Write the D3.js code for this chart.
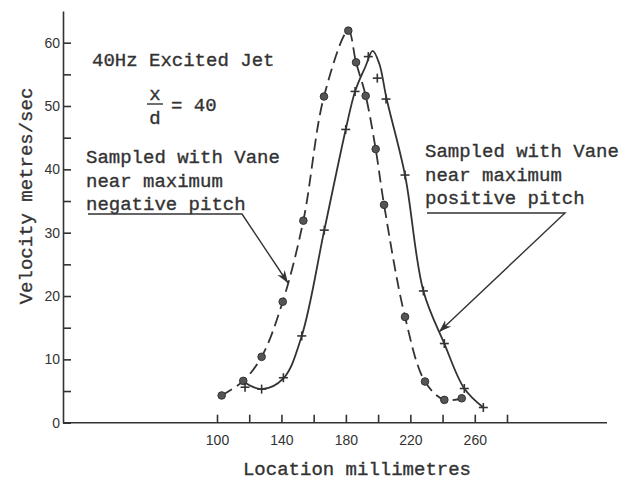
<!DOCTYPE html>
<html>
<head>
<meta charset="utf-8">
<script src="https://cdn.jsdelivr.net/npm/d3@7"></script>
<style>
  body { margin: 0; background: #fff; }
  text { font-family: "Liberation Mono", "DejaVu Sans Mono", monospace; fill: #333; stroke: #333; stroke-width: 0.35; }
  .axis text { font-family: "Liberation Sans", Arial, sans-serif; font-size: 14px; fill: #333; stroke: none; }
  .axis path, .axis line { stroke: #333; stroke-width: 1.6; }
</style>
</head>
<body>
<svg id="chart" width="634" height="480"></svg>
<script>
// vane near maximum negative pitch (dots, dashed)
const neg_x = [102.9, 116.3, 127.7, 140.8, 153.6, 166.4, 181.5, 186.3, 192.3, 198.5, 203.7, 216.7, 229.1, 241.1, 251.9];
const neg_y = [4.3, 6.6, 10.4, 19.1, 31.9, 51.5, 61.9, 56.9, 51.6, 43.2, 34.4, 16.7, 6.5, 3.6, 3.85];

// vane near maximum positive pitch (crosses, solid)
const pos_x = [117.4, 127.7, 141.2, 152.6, 166.6, 179.9, 185.7, 193.9, 199.5, 204.9, 216.7, 228.1, 241.1, 253.5, 265.3];
const pos_y = [5.6, 5.3, 7.1, 13.7, 30.4, 46.3, 52.3, 57.8, 54.4, 51.1, 39.1, 20.8, 12.5, 5.4, 2.4];

// the drawn solid curve
const pos_curve_x = [116.3, 127.7, 141.2, 152.6, 166.6, 179.9, 185.7, 192.1, 196.6, 200.7, 205.3, 216.7, 228.1, 241.1, 253.5, 265.3];
const pos_curve_y = [6.5, 5.3, 7.0, 13.7, 30.4, 46.3, 52.3, 56.2, 58.7, 56.7, 51.1, 39.1, 20.8, 12.5, 5.4, 2.4];

const x_ticks = [100, 120, 140, 160, 180, 200, 220, 240, 260, 280];
const x_labels = [100, 140, 180, 220, 260];
const y_ticks = [0, 5, 10, 15, 20, 25, 30, 35, 40, 45, 50, 55, 60];
const y_labels = [0, 10, 20, 30, 40, 50, 60];

const ink = '#333';

const svg = d3.select('#chart');
const x = d3.scaleLinear().domain([100, 280]).range([217, 507]);
const y = d3.scaleLinear().domain([0, 65]).range([422.7, 11]);

draw_axes();
draw_series();
draw_notes();

function draw_axes(){
    // x axis line runs from the y axis to the right edge
    svg.append('line')
        .attr('x1', 63).attr('x2', 607)
        .attr('y1', y(0)).attr('y2', y(0))
        .style('stroke', ink).style('stroke-width', 1.6);

    let gx = svg.append('g').attr('class', 'axis')
        .attr('transform', 'translate(0,' + y(0) + ')')
        .call(d3.axisBottom(x)
            .tickValues(x_ticks)
            .tickSizeInner(-8).tickSizeOuter(0)
            .tickPadding(12)
            .tickFormat(d => x_labels.includes(d) ? d : ''));
    gx.select('.domain').remove();

    svg.append('g').attr('class', 'axis')
        .attr('transform', 'translate(63,0)')
        .call(d3.axisLeft(y)
            .tickValues(y_ticks)
            .tickSizeInner(-8).tickSizeOuter(0)
            .tickPadding(3)
            .tickFormat(d => y_labels.includes(d) ? d : ''));

    svg.append('text')
        .attr('x', 357).attr('y', 475)
        .attr('text-anchor', 'middle')
        .style('font-size', '19px')
        .text('Location millimetres');

    svg.append('text')
        .attr('transform', 'translate(32,196) rotate(-90)')
        .attr('text-anchor', 'middle')
        .style('font-size', '19px')
        .text('Velocity metres/sec');
}

function draw_series(){
    const neg = neg_x.map((d, i) => [d, neg_y[i]]);
    const pos = pos_x.map((d, i) => [d, pos_y[i]]);
    const pos_curve = pos_curve_x.map((d, i) => [d, pos_curve_y[i]]);

    const line = d3.line()
        .x(d => x(d[0]))
        .y(d => y(d[1]))
        .curve(d3.curveCatmullRom.alpha(0.5));

    svg.append('path')
        .datum(neg)
        .attr('d', line)
        .style('fill', 'none').style('stroke', ink)
        .style('stroke-width', 1.8)
        .style('stroke-dasharray', '12,6');

    svg.append('path')
        .datum(pos_curve)
        .attr('d', line)
        .style('fill', 'none').style('stroke', ink)
        .style('stroke-width', 1.8);

    svg.selectAll('.dot')
        .data(neg).enter()
        .append('circle').attr('class', 'dot')
        .attr('cx', d => x(d[0])).attr('cy', d => y(d[1]))
        .attr('r', 3.8)
        .style('fill', '#555').style('stroke', '#333');

    let cross = svg.selectAll('.cross')
        .data(pos).enter()
        .append('g').attr('class', 'cross')
        .attr('transform', d => 'translate(' + x(d[0]) + ',' + y(d[1]) + ')');
    cross.append('line').attr('x1', -4.5).attr('x2', 4.5)
        .style('stroke', ink).style('stroke-width', 1.6);
    cross.append('line').attr('y1', -4.5).attr('y2', 4.5)
        .style('stroke', ink).style('stroke-width', 1.6);
}

function draw_notes(){
    svg.append('defs').append('marker')
        .attr('id', 'head')
        .attr('viewBox', '0 0 10 10')
        .attr('refX', 10).attr('refY', 5)
        .attr('markerWidth', 9).attr('markerHeight', 9)
        .attr('orient', 'auto')
        .append('path')
        .attr('d', 'M0,1.5 L10,5 L0,8.5 L3,5 Z')
        .style('fill', ink);

    svg.append('text')
        .attr('x', 92).attr('y', 66)
        .style('font-size', '19px')
        .text('40Hz Excited Jet');

    // x over d fraction
    svg.append('text').attr('x', 155).attr('y', 100)
        .attr('text-anchor', 'middle').style('font-size', '19px').text('x');
    svg.append('line')
        .attr('x1', 147).attr('x2', 163).attr('y1', 104).attr('y2', 104)
        .style('stroke', ink).style('stroke-width', 1.4);
    svg.append('text').attr('x', 155).attr('y', 124)
        .attr('text-anchor', 'middle').style('font-size', '19px').text('d');
    svg.append('text').attr('x', 171).attr('y', 111)
        .style('font-size', '19px').text('= 40');

    const notes = [
        { x: 86,  y: 163, lines: ['Sampled with Vane', 'near maximum', 'negative pitch'],
          under: [88, 242, 214], tip: [288, 283] },
        { x: 425, y: 157, lines: ['Sampled with Vane', 'near maximum', 'positive pitch'],
          under: [427, 565, 213], tip: [439, 332] },
    ];

    notes.forEach(note => {
        let t = svg.append('text')
            .attr('x', note.x).attr('y', note.y)
            .style('font-size', '19px');
        note.lines.forEach((s, i) => {
            t.append('tspan').attr('x', note.x).attr('dy', i ? 23.5 : 0).text(s);
        });
        svg.append('path')
            .attr('d', 'M' + note.under[0] + ',' + note.under[2] +
                       ' L' + note.under[1] + ',' + note.under[2] +
                       ' L' + note.tip[0] + ',' + note.tip[1])
            .style('fill', 'none').style('stroke', ink).style('stroke-width', 1.4)
            .attr('marker-end', 'url(#head)');
    });
}
</script>
</body>
</html>
